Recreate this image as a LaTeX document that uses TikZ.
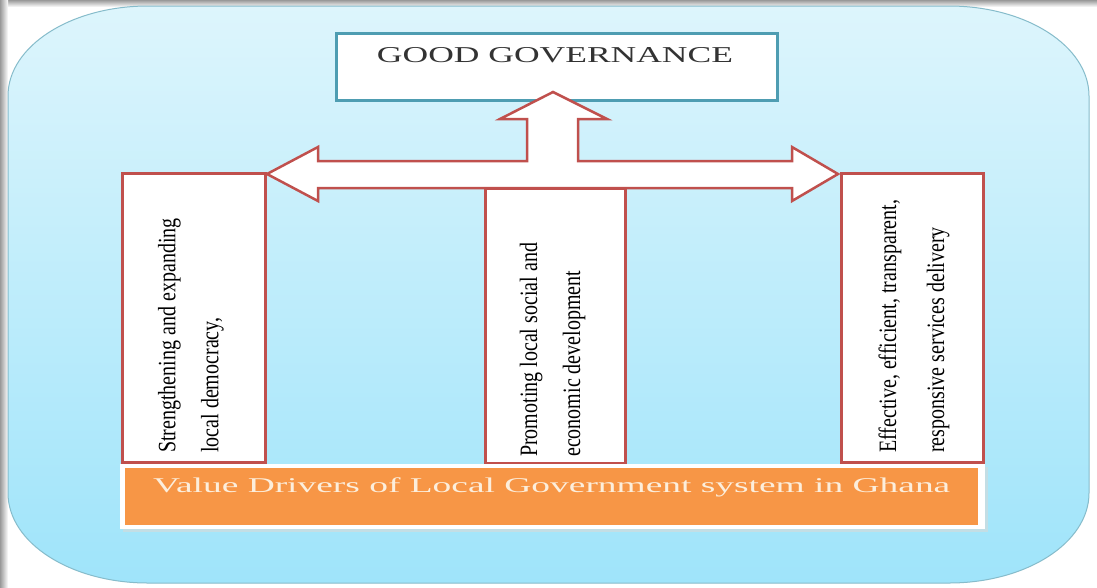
\documentclass[tikz,border=0pt]{standalone}
\usepackage{fontspec}
\setmainfont{Liberation Serif}
\usepackage{graphicx}
\definecolor{boxred}{HTML}{C0504D}
\definecolor{ggteal}{HTML}{4E9DB2}
\definecolor{barorange}{HTML}{F79646}
\definecolor{skytop}{HTML}{DDF5FC}
\definecolor{skybot}{HTML}{9FE4FA}
\definecolor{skyedge}{HTML}{86BCCB}
\definecolor{creamtext}{HTML}{FCEEDC}
\newcommand\sqz[1]{\scalebox{0.8}[1]{#1}}
\begin{document}
\begin{tikzpicture}[x=1pt,y=-1pt,
  redbox/.style={draw=boxred, line width=3pt, fill=white, inner sep=0pt, outer sep=0pt},
  vtext/.style={rotate=90, anchor=west, align=left, inner sep=0pt, text=black},
]
\useasboundingbox (0,0) rectangle (1097,587);
\fill[white] (0,0) rectangle (1097,587);
% frame shadow
\shade[top color=black!40, bottom color=white] (0,0) rectangle (1097,7);
\shade[left color=black!40, right color=white] (0,0) rectangle (8,587);
% background panel
\shade[top color=skytop, bottom color=skybot, draw=skyedge, line width=1pt]
 (148,6) -- (949,6) .. controls (1026,6) and (1089,46) .. (1089,96)
 -- (1089,493) .. controls (1089,543) and (1026,583) .. (949,583)
 -- (148,583) .. controls (71,583) and (8,543) .. (8,493)
 -- (8,96) .. controls (8,46) and (71,6) .. (148,6) -- cycle;
% good governance box
\node[draw=ggteal, line width=3pt, fill=white, minimum width=441pt, minimum height=67pt, inner sep=0pt] (gg) at (556.5,66.5) {};
\node[anchor=base, inner sep=0pt, text=black!80] (ggtext) at (555,62)
 {\resizebox{356pt}{\height}{\fontsize{22.7}{22.7}\selectfont GOOD GOVERNANCE}};
% three boxes
\node[redbox, minimum width=143pt, minimum height=289pt] (lbox) at (193.5,317.5) {};
\node[redbox, minimum width=140pt, minimum height=275pt] (mbox) at (555,325.5) {};
\node[redbox, minimum width=142pt, minimum height=289pt] (rbox) at (912,317.5) {};
% big hollow arrow
\filldraw[draw=boxred, fill=white, line width=2.5pt, line join=miter]
 (267,174) -- (318,147) -- (318,161) -- (527,161) -- (527,119) -- (500,119)
 -- (553,92) -- (607,119) -- (578,119) -- (578,161) -- (792,161) -- (792,147)
 -- (838,174) -- (792,201) -- (792,188) -- (318,188) -- (318,201) -- cycle;
% rotated texts
\node[vtext, font=\fontsize{25}{43}\selectfont] (ltext) at (191,453)
 {\sqz{Strengthening and expanding}\\\sqz{local democracy,}};
\node[vtext, font=\fontsize{25}{43}\selectfont] (mtext) at (552.5,457)
 {\sqz{Promoting local social and}\\\sqz{economic development}};
\node[vtext, font=\fontsize{25}{48}\selectfont] (rtext) at (914,453)
 {\sqz{Effective, efficient, transparent,}\\\sqz{responsive services delivery}};
% bottom bar
\fill[skyedge!50] (123,467) rectangle (988,532);
\node[fill=white, minimum width=865pt, minimum height=65pt, inner sep=0pt] (barframe) at (552.5,496.5) {};
\node[fill=barorange, minimum width=853pt, minimum height=57pt, inner sep=0pt] (bar) at (551.5,496.5) {};
\node[anchor=base west, inner sep=0pt, text=creamtext] (bartext) at (153,492)
 {\resizebox{797pt}{\height}{\fontsize{21}{21}\selectfont Value Drivers of Local Government system in Ghana}};
\end{tikzpicture}
\end{document}
